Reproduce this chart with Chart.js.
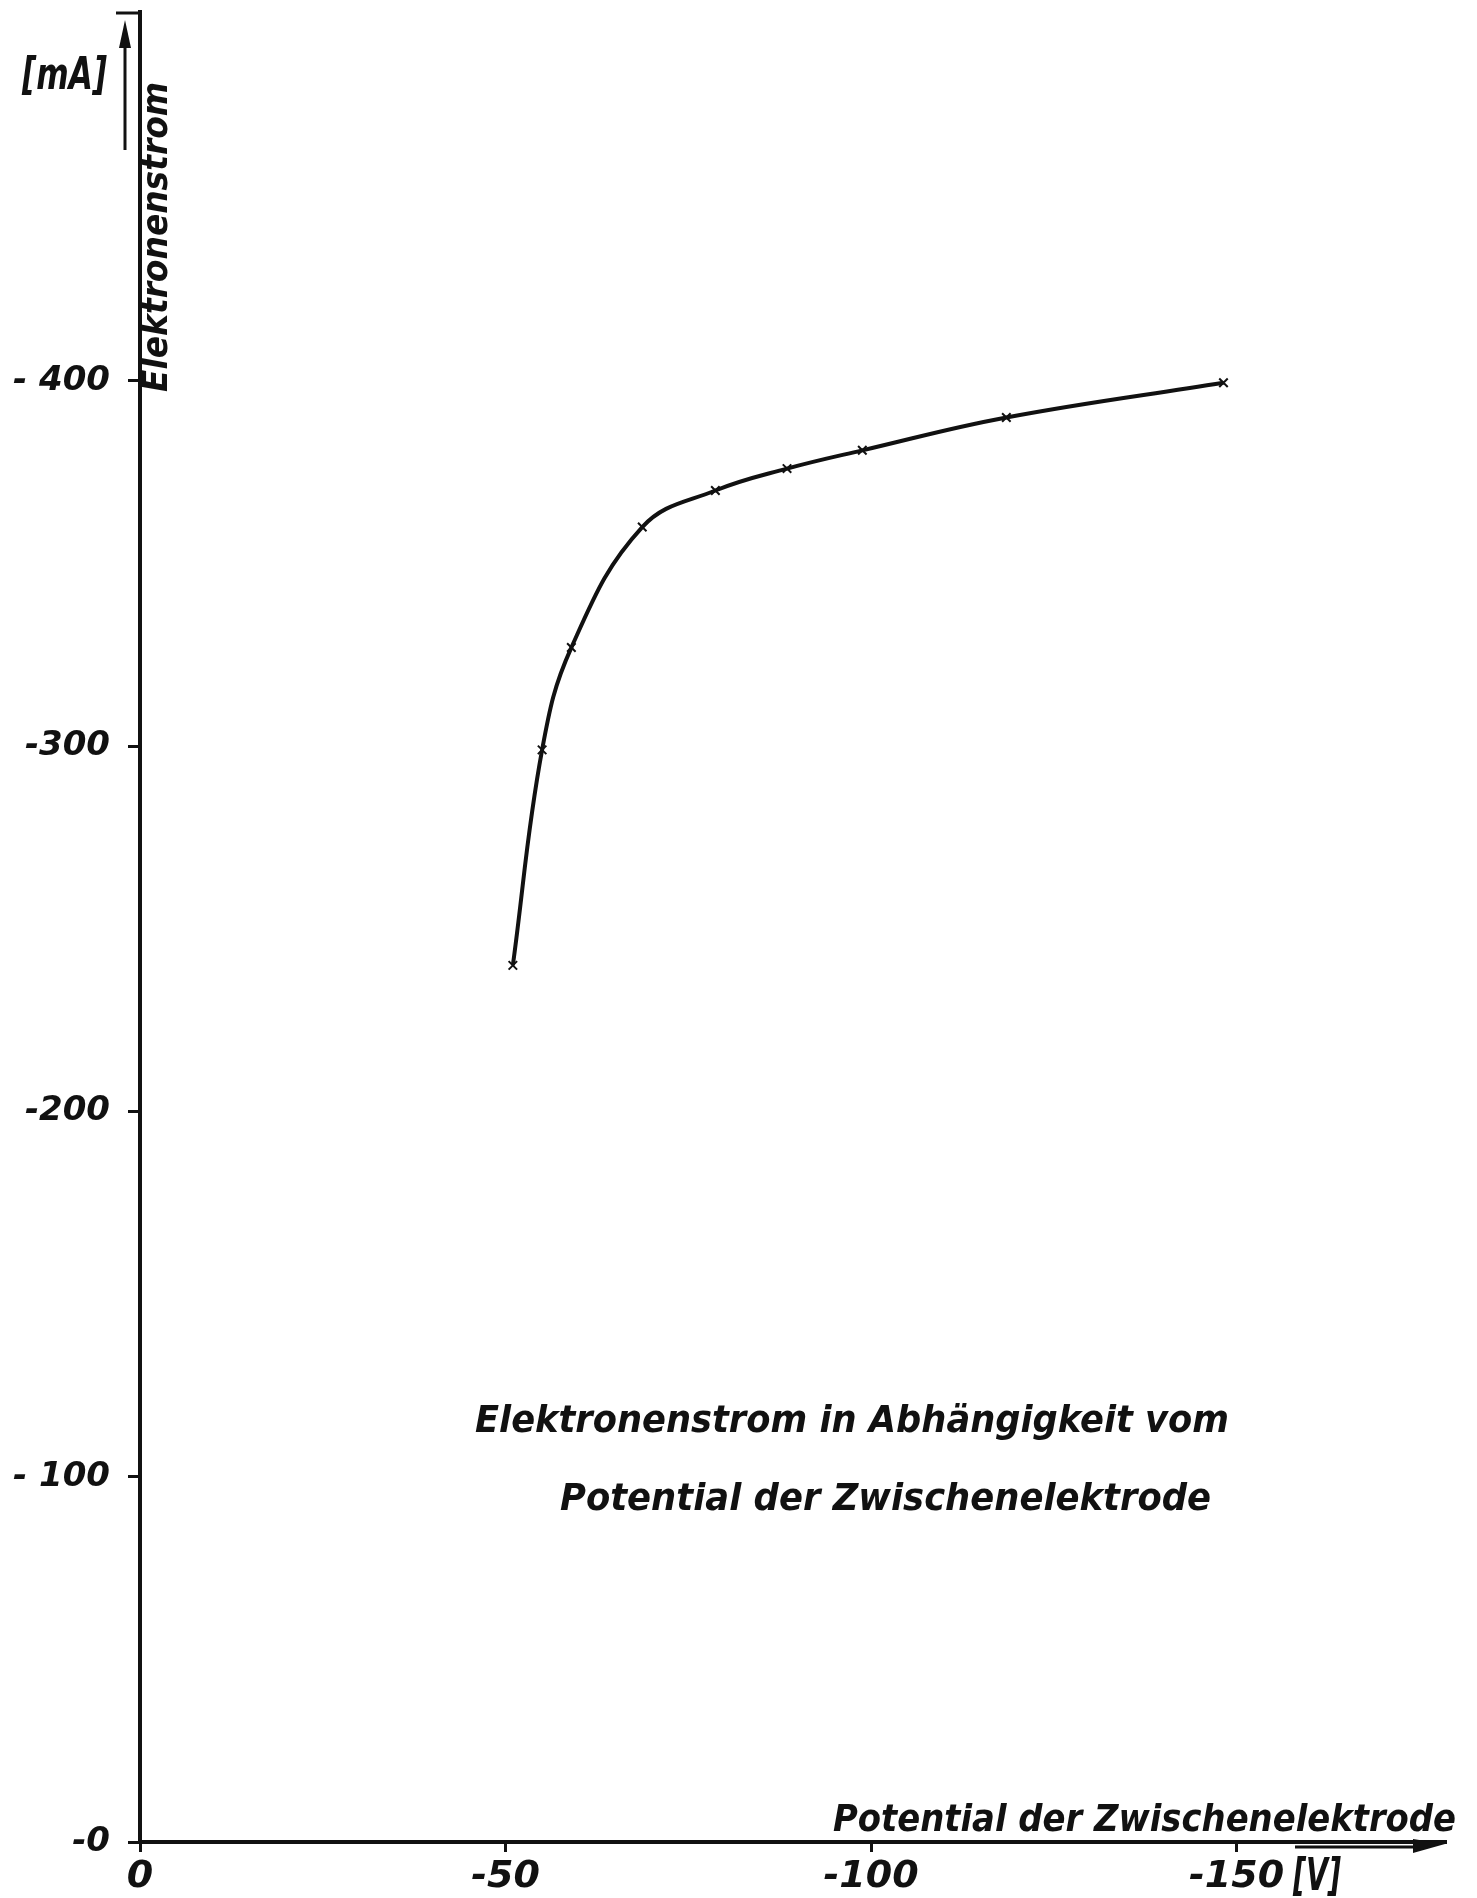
<!DOCTYPE html>
<html>
<head>
<meta charset="utf-8">
<script src="https://cdn.jsdelivr.net/npm/chart.js@4/dist/chart.umd.min.js"></script>
<style>
  html, body { margin: 0; padding: 0; background: #fff; }
  #wrap { width: 1477px; height: 1898px; }
</style>
</head>
<body>
<div id="wrap"><canvas id="c" width="1477" height="1898"></canvas></div>
<script>
// Potential der Zwischenelektrode [V]
const potential = [-51, -55, -59, -68.7, -78.7, -88.5, -98.8, -118.5, -148.2];
// Elektronenstrom [mA]
const current = [-240, -299, -327, -360, -370, -376, -381, -390, -399.5];

const xTickValues = [0, -50, -100, -150];
const xTickLabels = ['0', '-50', '-100', '-150'];
const yTickValues = [0, -100, -200, -300, -400];
const yTickLabels = ['-0', '- 100', '-200', '-300', '- 400'];

const FONT = "'DejaVu Sans', 'Liberation Sans', sans-serif";

// Draws a string stretched horizontally to a given width
function fitText(ctx, text, x, y, width, size, angle) {
  ctx.save();
  ctx.font = 'italic bold ' + size + 'px ' + FONT;
  ctx.fillStyle = '#111';
  ctx.textBaseline = 'alphabetic';
  ctx.textAlign = 'left';
  ctx.translate(x, y);
  if (angle) ctx.rotate(angle);
  const w = ctx.measureText(text).width;
  ctx.scale(width / w, 1);
  ctx.fillText(text, 0, 0);
  ctx.restore();
}

const decorations = {
  id: 'decorations',
  afterDraw(chart) {
    const ctx = chart.ctx;
    const a = chart.chartArea;
    ctx.save();
    ctx.strokeStyle = '#111';
    ctx.fillStyle = '#111';

    // arrow beside the current axis
    ctx.lineWidth = 3;
    ctx.beginPath();
    ctx.moveTo(a.left - 15, 150);
    ctx.lineTo(a.left - 15, 40);
    ctx.stroke();
    ctx.beginPath();
    ctx.moveTo(a.left - 15, 20);
    ctx.lineTo(a.left - 21, 48);
    ctx.lineTo(a.left - 9, 48);
    ctx.closePath();
    ctx.fill();

    // cap at the top of the current axis
    ctx.lineWidth = 3;
    ctx.beginPath();
    ctx.moveTo(a.left - 24, a.top + 1);
    ctx.lineTo(a.left + 1, a.top + 1);
    ctx.stroke();

    // arrow under the end of the potential axis
    ctx.lineWidth = 3;
    ctx.beginPath();
    ctx.moveTo(a.right - 150, a.bottom + 5);
    ctx.lineTo(a.right - 20, a.bottom + 5);
    ctx.stroke();
    ctx.beginPath();
    ctx.moveTo(a.right, a.bottom + 2);
    ctx.lineTo(a.right - 32, a.bottom - 3);
    ctx.lineTo(a.right - 32, a.bottom + 11);
    ctx.closePath();
    ctx.fill();
    ctx.restore();

    // unit and axis titles
    fitText(ctx, '[mA]', 22, 89, 85, 44, 0);
    fitText(ctx, 'Elektronenstrom', 167, 392, 310, 36, -Math.PI / 2);
    fitText(ctx, 'Potential der Zwischenelektrode', 833, 1831, 623, 38, 0);
    fitText(ctx, '[V]', 1293, 1890, 48, 44, 0);

    // caption
    fitText(ctx, 'Elektronenstrom in Abhängigkeit vom', 475, 1432, 754, 38, 0);
    fitText(ctx, 'Potential der Zwischenelektrode', 560, 1510, 651, 38, 0);
  }
};

const points = potential.map((x, i) => ({ x: x, y: current[i] }));

new Chart(document.getElementById('c'), {
  type: 'scatter',
  data: {
    datasets: [{
      data: points,
      showLine: true,
      borderColor: '#111',
      borderWidth: 4,
      tension: 0.4,
      pointStyle: 'crossRot',
      pointRadius: 6,
      pointBorderWidth: 2,
      pointBorderColor: '#111',
      pointBackgroundColor: '#111',
      fill: false
    }]
  },
  options: {
    responsive: false,
    animation: false,
    devicePixelRatio: 1,
    layout: { padding: { top: 12, right: 32, left: 0, bottom: 0 } },
    plugins: {
      legend: { display: false },
      tooltip: { enabled: false },
      title: { display: false }
    },
    scales: {
      x: {
        type: 'linear',
        position: 'bottom',
        min: -178.5,
        max: 0,
        reverse: true,
        border: { display: true, color: '#111', width: 4 },
        grid: { display: true, drawOnChartArea: false, drawTicks: true, tickLength: 10, color: '#111', lineWidth: 3 },
        ticks: {
          color: '#111',
          padding: 2,
          maxRotation: 0,
          font: { family: FONT, style: 'italic', weight: 'bold', size: 38 },
          callback: (v) => {
            const i = xTickValues.indexOf(v);
            return i >= 0 ? xTickLabels[i] : '';
          }
        },
        afterBuildTicks: (s) => { s.ticks = xTickValues.map(v => ({ value: v })); },
        afterFit: (s) => { s.height = 56; s.paddingLeft = 0; s.paddingRight = 0; }
      },
      y: {
        type: 'linear',
        position: 'left',
        min: -501,
        max: 0,
        reverse: true,
        border: { display: true, color: '#111', width: 4 },
        grid: { display: true, drawOnChartArea: false, drawTicks: true, tickLength: 12, color: '#111', lineWidth: 3 },
        ticks: {
          color: '#111',
          padding: 18,
          font: { family: FONT, style: 'italic', weight: 'bold', size: 34 },
          callback: (v) => {
            const i = yTickValues.indexOf(v);
            return i >= 0 ? yTickLabels[i] : '';
          }
        },
        afterBuildTicks: (s) => { s.ticks = yTickValues.map(v => ({ value: v })); },
        afterFit: (s) => { s.width = 140; s.paddingTop = 0; s.paddingBottom = 0; }
      }
    }
  },
  plugins: [decorations]
});
</script>
</body>
</html>
